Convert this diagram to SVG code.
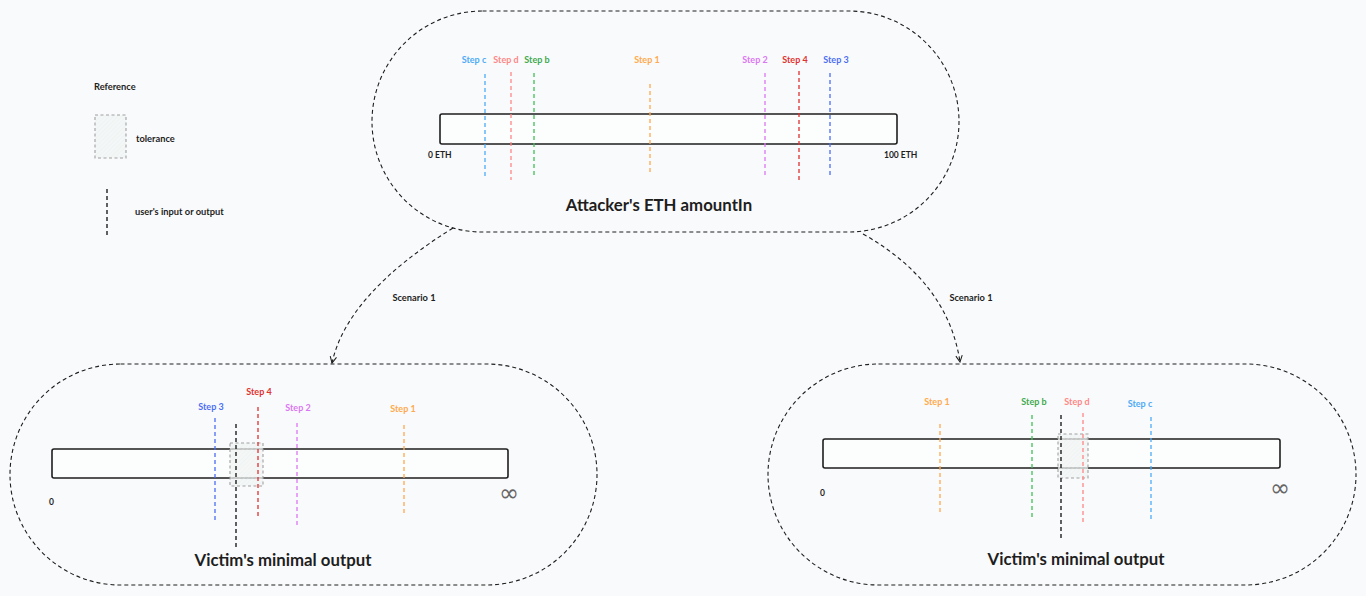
<svg xmlns="http://www.w3.org/2000/svg" width="1366" height="596" viewBox="0 0 1366 596">
<defs>
<pattern id="hatch" patternUnits="userSpaceOnUse" width="3" height="3" patternTransform="rotate(45)">
<rect width="3" height="3" fill="#f3f6f5" fill-opacity="0.7"/>
<line x1="0" y1="0" x2="0" y2="3" stroke="#e3eae8" stroke-width="0.6"/>
</pattern>
<marker id="arr" viewBox="0 0 10 10" refX="9" refY="5" markerWidth="8" markerHeight="8" orient="auto-start-reverse" markerUnits="userSpaceOnUse">
<path d="M1,1 L9,5 L1,9" fill="none" stroke="#1e1e1e" stroke-width="1.3"/>
</marker>
</defs>
<style>
text{font-family:Lato,"Liberation Sans",sans-serif;font-weight:bold;fill:#1e1e1e}
.stadium{fill:none;stroke:#1e1e1e;stroke-width:1.1;stroke-dasharray:4 3}
.bar{fill:#fcfdfd;stroke:#1e1e1e;stroke-width:1.6}
.tol{fill:url(#hatch);stroke:#a0a0a0;stroke-width:1.1;stroke-dasharray:3 2.5}
.step{stroke-width:1.3;stroke-dasharray:4 3;fill:none}
.usr{stroke:#1e1e1e;stroke-width:1.4;stroke-dasharray:4 3;fill:none}
.lbl{font-size:9px;text-anchor:middle}
.axis{font-size:8.5px}
.title{font-size:16.8px;text-anchor:middle}
.small{font-size:9.3px}
.conn{fill:none;stroke:#1e1e1e;stroke-width:1.1;stroke-dasharray:4 3}
.c-c{stroke:#4dabf7}.t-c{fill:#4dabf7}
.c-d{stroke:#ff8787}.t-d{fill:#ff8787}
.c-b{stroke:#40c057}.t-b{fill:#40a950}
.c-1{stroke:#ffa94d}.t-1{fill:#ffa94d}
.c-2{stroke:#da77f2}.t-2{fill:#da77f2}
.c-4{stroke:#e03131}.t-4{fill:#e03131}
.c-3{stroke:#4c6ef5}.t-3{fill:#4c6ef5}
.inf{font-size:24px;font-weight:normal;fill:#666;font-family:"DejaVu Sans",sans-serif}
</style>
<rect width="1366" height="596" fill="#f9fafb"/>

<g id="legend">
<text x="94" y="90" class="small">Reference</text>
<rect x="95" y="115" width="31" height="43" class="tol"/>
<text x="136" y="142" class="small">tolerance</text>
<line x1="107" y1="189" x2="107" y2="238" class="usr"/>
<text x="135" y="215" class="small">user's input or output</text>
</g>

<g id="attacker-amountIn">
<rect x="372" y="11" width="587" height="221" rx="110.5" class="stadium"/>
<rect x="440" y="114" width="457" height="30" rx="2" class="bar"/>
<text x="428" y="158" class="axis">0 ETH</text>
<text x="884" y="158" class="axis">100 ETH</text>
<line x1="485" y1="74" x2="485" y2="176" class="step c-c"/>
<line x1="511" y1="72" x2="511" y2="180" class="step c-d"/>
<line x1="534" y1="73" x2="534" y2="177" class="step c-b"/>
<line x1="650" y1="84" x2="650" y2="174" class="step c-1"/>
<line x1="765" y1="73" x2="765" y2="177" class="step c-2"/>
<line x1="799" y1="71" x2="799" y2="180" class="step c-4"/>
<line x1="830" y1="73" x2="830" y2="176" class="step c-3"/>
<text x="474" y="63" class="lbl t-c">Step c</text>
<text x="506" y="63" class="lbl t-d">Step d</text>
<text x="537" y="63" class="lbl t-b">Step b</text>
<text x="647" y="63" class="lbl t-1">Step 1</text>
<text x="755" y="63" class="lbl t-2">Step 2</text>
<text x="795" y="63" class="lbl t-4">Step 4</text>
<text x="836" y="63" class="lbl t-3">Step 3</text>
<text x="659" y="211" class="title">Attacker's ETH amountIn</text>
</g>

<g id="victim-output-left">
<rect x="10" y="364" width="587" height="221" rx="110.5" class="stadium"/>
<rect x="52" y="449" width="456" height="29" rx="2" class="bar"/>
<rect x="230" y="443" width="33" height="43" class="tol"/>
<text x="49" y="505" class="axis">0</text>
<text x="499" y="501" class="inf">∞</text>
<line x1="215" y1="418" x2="215" y2="520" class="step c-3"/>
<line x1="236" y1="424" x2="236" y2="549" class="usr"/>
<line x1="258" y1="407" x2="258" y2="516" class="step c-4"/>
<line x1="297" y1="423" x2="297" y2="526" class="step c-2"/>
<line x1="404" y1="425" x2="404" y2="516" class="step c-1"/>
<text x="211" y="410" class="lbl t-3">Step 3</text>
<text x="259" y="395" class="lbl t-4">Step 4</text>
<text x="298" y="411" class="lbl t-2">Step 2</text>
<text x="403" y="412" class="lbl t-1">Step 1</text>
<text x="283" y="566" class="title">Victim's minimal output</text>
</g>

<g id="victim-output-right">
<rect x="768" y="364" width="588" height="221" rx="110.5" class="stadium"/>
<rect x="823" y="439" width="457" height="29" rx="2" class="bar"/>
<rect x="1058" y="434" width="30" height="44" class="tol"/>
<text x="820" y="496" class="axis">0</text>
<text x="1270" y="496" class="inf">∞</text>
<line x1="940" y1="424" x2="940" y2="514" class="step c-1"/>
<line x1="1032" y1="415" x2="1032" y2="519" class="step c-b"/>
<line x1="1061" y1="415" x2="1061" y2="540" class="usr"/>
<line x1="1083" y1="413" x2="1083" y2="522" class="step c-d"/>
<line x1="1151" y1="417" x2="1151" y2="519" class="step c-c"/>
<text x="937" y="405" class="lbl t-1">Step 1</text>
<text x="1034" y="405" class="lbl t-b">Step b</text>
<text x="1077" y="405" class="lbl t-d">Step d</text>
<text x="1140" y="407" class="lbl t-c">Step c</text>
<text x="1076" y="565" class="title">Victim's minimal output</text>
</g>

<g id="connectors">
<path d="M453,228 Q347,294 332,363" class="conn" marker-end="url(#arr)"/>
<path d="M863,234 Q948,282 960,362" class="conn" marker-end="url(#arr)"/>
<text x="414" y="301" class="small" text-anchor="middle">Scenario 1</text>
<text x="971" y="301" class="small" text-anchor="middle">Scenario 1</text>
</g>
</svg>
